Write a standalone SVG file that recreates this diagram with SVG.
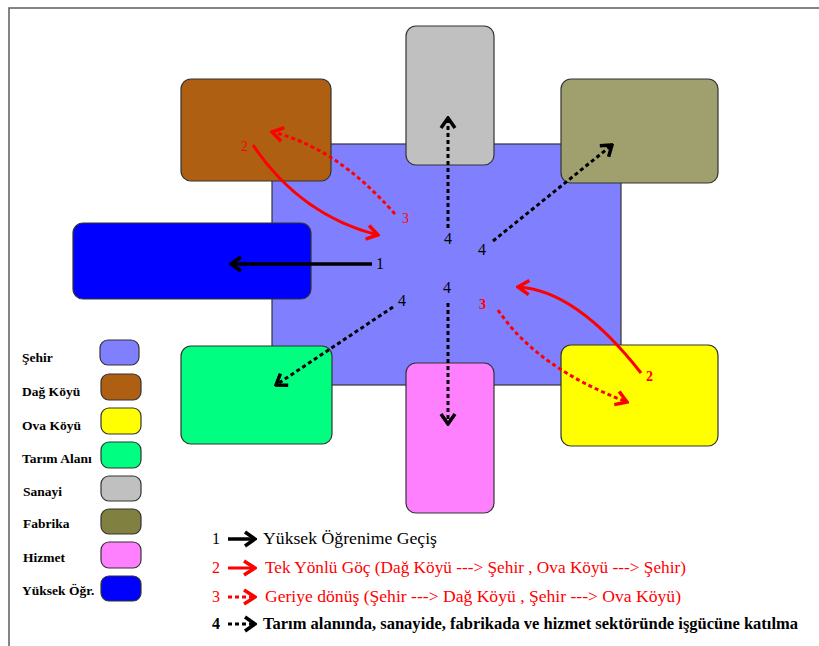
<svg xmlns="http://www.w3.org/2000/svg" width="819" height="646" viewBox="0 0 819 646">
<style>
.node{stroke:#333;stroke-width:1.2}
.sw{stroke:#333;stroke-width:1.2}
.lg{font-weight:bold;font-size:13.5px;fill:#000}
.num{font-size:16px;fill:#000}
.rnum{font-size:14px;fill:#f00}
.key{font-size:16px}
.solidK{fill:none;stroke:#000;stroke-width:3.5}
.solidR{fill:none;stroke:#f00;stroke-width:3}
.dashK{fill:none;stroke:#000;stroke-width:3;stroke-dasharray:4 3}
.dashR{fill:none;stroke:#f00;stroke-width:3;stroke-dasharray:4 3}
</style>
<defs>
<marker id="hk" markerUnits="userSpaceOnUse" viewBox="-14 -10 16 20" refX="0" refY="0" markerWidth="16" markerHeight="20" orient="auto">
<path d="M-10,-7 L0,0 L-10,7" fill="none" stroke="#000" stroke-width="3.5" stroke-dasharray="none"/>
</marker>
<marker id="hr" markerUnits="userSpaceOnUse" viewBox="-14 -10 16 20" refX="0" refY="0" markerWidth="16" markerHeight="20" orient="auto">
<path d="M-11,-7 L0,0 L-11,7" fill="none" stroke="#f00" stroke-width="3.5" stroke-dasharray="none"/>
</marker>
</defs>
<rect x="0" y="0" width="819" height="646" fill="#fff"/>
<rect x="9" y="8" width="830" height="660" fill="none" stroke="#666" stroke-width="1.6"/>

<g id="sehir"><rect class="node" x="272" y="144" width="349" height="241" fill="#8080FF"/></g>
<g id="dag-koyu"><rect class="node" x="181" y="79" width="150" height="102" rx="10" fill="#AF5F12"/></g>
<g id="yuksek-ogr"><rect class="node" x="73" y="223" width="238" height="76" rx="10" fill="#0000FF"/></g>
<g id="sanayi"><rect class="node" x="406" y="26" width="88" height="139" rx="10" fill="#C0C0C0"/></g>
<g id="fabrika"><rect class="node" x="561" y="79" width="157" height="104" rx="10" fill="#A0A06E"/></g>
<g id="tarim-alani"><rect class="node" x="181" y="346" width="151" height="98" rx="10" fill="#00FF80"/></g>
<g id="hizmet"><rect class="node" x="406" y="363" width="88" height="150" rx="10" fill="#FF80FF"/></g>
<g id="ova-koyu"><rect class="node" x="561" y="345" width="157" height="101" rx="10" fill="#FFFF00"/></g>

<g id="connectors">
<path class="solidK" d="M372,264 L231,264" marker-end="url(#hk)"/>
<path class="solidR" d="M253,145 Q300,215 378,235" marker-end="url(#hr)"/>
<path class="dashR" d="M395,214 Q336,147 272,132" marker-end="url(#hr)"/>
<path class="solidR" d="M641,373 Q576,290 518,287" marker-end="url(#hr)"/>
<path class="dashR" d="M498,310 Q537,368 627,402" marker-end="url(#hr)"/>
<path class="dashK" d="M448,228 L448,118" marker-end="url(#hk)"/>
<path class="dashK" d="M448,303 L448,424" marker-end="url(#hk)"/>
<path class="dashK" d="M493,241 L612,145" marker-end="url(#hk)"/>
<path class="dashK" d="M393,307 L276,385" marker-end="url(#hk)"/>
</g>

<g id="labels" font-family="Liberation Serif, Times New Roman, DejaVu Serif, serif">
<text class="num" x="444" y="244">4</text>
<text class="num" x="478" y="255">4</text>
<text class="num" x="376" y="269">1</text>
<text class="num" x="443" y="293">4</text>
<text class="num" x="398" y="306">4</text>
<text class="rnum" x="241" y="151">2</text>
<text class="rnum" x="402" y="223">3</text>
<text class="rnum" x="479" y="309" font-weight="bold">3</text>
<text class="rnum" x="646" y="381" font-weight="bold">2</text>
</g>

<g id="legend" font-family="Liberation Serif, Times New Roman, DejaVu Serif, serif">
<text class="lg" x="22" y="362">Şehir</text>
<rect class="sw" x="100" y="340" width="39" height="25" rx="8" fill="#8080FF"/>
<text class="lg" x="22" y="396">Dağ Köyü</text>
<rect class="sw" x="101" y="374" width="40" height="26" rx="8" fill="#AF5F12"/>
<text class="lg" x="22" y="430">Ova Köyü</text>
<rect class="sw" x="101" y="408" width="40" height="26" rx="8" fill="#FFFF00"/>
<text class="lg" x="22" y="463">Tarım Alanı</text>
<rect class="sw" x="101" y="442" width="40" height="26" rx="8" fill="#00FF80"/>
<text class="lg" x="23" y="496">Sanayi</text>
<rect class="sw" x="101" y="476" width="40" height="25" rx="8" fill="#C0C0C0"/>
<text class="lg" x="23" y="528">Fabrika</text>
<rect class="sw" x="101" y="509" width="40" height="25" rx="8" fill="#808040"/>
<text class="lg" x="23" y="562">Hizmet</text>
<rect class="sw" x="101" y="542" width="40" height="26" rx="8" fill="#FF80FF"/>
<text class="lg" x="22" y="595">Yüksek Öğr.</text>
<rect class="sw" x="101" y="576" width="40" height="25" rx="8" fill="#0000FF"/>
</g>

<g id="key" font-family="Liberation Serif, Times New Roman, DejaVu Serif, serif">
<text class="key" x="212" y="544" fill="#000">1</text>
<path class="solidK" d="M228,539 L255,539" marker-end="url(#hk)"/>
<text class="key" x="263" y="544" fill="#000" textLength="174" lengthAdjust="spacingAndGlyphs">Yüksek Öğrenime Geçiş</text>
<text class="key" x="212" y="573" fill="#f00">2</text>
<path class="solidR" d="M228,568 L255,568" marker-end="url(#hr)"/>
<text class="key" x="265" y="573" fill="#f00" textLength="421" lengthAdjust="spacingAndGlyphs">Tek Yönlü Göç (Dağ Köyü ---&gt; Şehir , Ova Köyü ---&gt; Şehir)</text>
<text class="key" x="212" y="602" fill="#f00">3</text>
<path class="dashR" d="M228,597 L255,597" stroke-dasharray="4 4" marker-end="url(#hr)"/>
<text class="key" x="265" y="602" fill="#f00" textLength="416" lengthAdjust="spacingAndGlyphs">Geriye dönüş (Şehir ---&gt; Dağ Köyü , Şehir ---&gt; Ova Köyü)</text>
<text class="key" x="212" y="629" fill="#000" font-weight="bold">4</text>
<path class="dashK" d="M228,624 L255,624" stroke-dasharray="4 4" marker-end="url(#hk)"/>
<text class="key" x="263" y="629" fill="#000" font-weight="bold" font-size="15" textLength="535" lengthAdjust="spacingAndGlyphs">Tarım alanında, sanayide, fabrikada ve hizmet sektöründe işgücüne katılma</text>
</g>
</svg>
